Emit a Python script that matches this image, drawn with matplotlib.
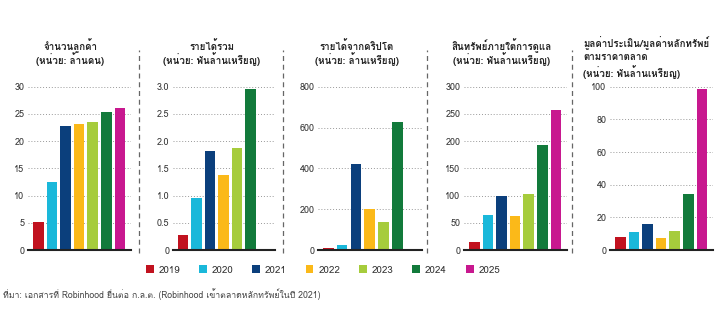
import numpy as np
import matplotlib
matplotlib.use("Agg")
import matplotlib.pyplot as plt
from matplotlib import font_manager
from matplotlib.ft2font import FT2Font
from matplotlib.patches import Patch
from matplotlib.lines import Line2D

# Datos por año
anios = ['2019', '2020', '2021', '2022', '2023', '2024', '2025']
colores = ['#c1121f', '#1ab8da', '#0b3f7c', '#fbb919', '#a6cc3c', '#127a3b', '#c8188f']

clientes = [5.1, 12.5, 22.8, 23.1, 23.5, 25.3, 26.0]
ingresos = [0.28, 0.96, 1.82, 1.37, 1.87, 2.96]
ingresos_cripto = [10, 24, 419, 202, 135, 626]
activos = [14.7, 63.7, 98.6, 62.4, 103.5, 193.5, 256.5]
valoracion = [7.8, 11.2, 15.9, 7.1, 11.6, 34.5, 98.4]

titulos = [
    ['จำนวนลูกค้า', '(หน่วย: ล้านคน)'],
    ['รายได้รวม', '(หน่วย: พันล้านเหรียญ)'],
    ['รายได้จากคริปโต', '(หน่วย: ล้านเหรียญ)'],
    ['สินทรัพย์ภายใต้การดูแล', '(หน่วย: พันล้านเหรียญ)'],
    ['มูลค่าประเมิน/มูลค่าหลักทรัพย์', 'ตามราคาตลาด', '(หน่วย: พันล้านเหรียญ)'],
]
ticks = [
    [0, 5, 10, 15, 20, 25, 30],
    [0, 0.5, 1.0, 1.5, 2.0, 2.5, 3.0],
    [0, 200, 400, 600, 800],
    [0, 50, 100, 150, 200, 250, 300],
    [0, 20, 40, 60, 80, 100],
]
etiquetas = [
    ['0', '5', '10', '15', '20', '25', '30'],
    ['0', '0.5', '1.0', '1.5', '2.0', '2.5', '3.0'],
    ['0', '200', '400', '600', '800'],
    ['0', '50', '100', '150', '200', '250', '300'],
    ['0', '20', '40', '60', '80', '100'],
]
series = [clientes, ingresos, ingresos_cripto, activos, valoracion]
fuente_nota = 'ที่มา: เอกสารที่ Robinhood ยื่นต่อ ก.ล.ต. (Robinhood เข้าตลาดหลักทรัพย์ในปี 2021)'


# Buscar una fuente instalada que tenga caracteres thai
def fuente_thai():
    for f in font_manager.fontManager.ttflist:
        try:
            if 0x0E01 in FT2Font(f.fname).get_charmap():
                return f.name
        except Exception:
            pass
    return 'DejaVu Sans'


plt.rcParams['font.family'] = [fuente_thai(), 'DejaVu Sans']

W, H = 720, 330
fig = plt.figure(figsize=(W / 100, H / 100), dpi=100)

# posiciones de los paneles en pixeles (izq, der)
paneles_x = [(28, 131), (173, 275), (318, 422), (464, 567), (610, 713)]
titulo_x = [70, 212, 357, 502, 583]
y_cero, y_tope = 250, 86.7

for i, (x0, x1) in enumerate(paneles_x):
    ax = fig.add_axes([x0 / W, 1 - y_cero / H, (x1 - x0) / W, (y_cero - y_tope) / H])
    vals = series[i]
    pos = np.arange(len(vals))
    ax.bar(pos, vals, width=0.78, color=colores[:len(vals)], zorder=3)
    ax.set_xlim(-0.75, 6.8)
    ax.set_ylim(0, ticks[i][-1])
    ax.set_yticks(ticks[i])
    ax.set_yticklabels(etiquetas[i])
    ax.set_xticks([])
    ax.tick_params(axis='y', length=0, labelsize=6.5, colors='#333333', pad=2.5)
    for s in ax.spines.values():
        s.set_visible(False)
    ax.yaxis.grid(True, linestyle=(0, (1, 2)), color='#999999', linewidth=0.7, zorder=0)
    ax.axhline(0, color='#222222', linewidth=1.5, zorder=4, clip_on=False)

    # titulos linea por linea
    if i < 4:
        ys = [46, 59]
        for t, y in zip(titulos[i], ys):
            fig.text(titulo_x[i] / W, 1 - y / H, t, ha='center', va='center',
                     fontsize=7, color='#222222', fontweight='semibold')
    else:
        ys = [43, 57, 72]
        for t, y in zip(titulos[i], ys):
            fig.text(titulo_x[i] / W, 1 - y / H, t, ha='left', va='center',
                     fontsize=7, color='#222222', fontweight='semibold')

# separadores punteados entre paneles
for xs in [138.5, 283, 427, 572]:
    fig.add_artist(Line2D([xs / W, xs / W], [1 - 253 / H, 1 - 50 / H], color='#666666',
                          linewidth=0.9, linestyle=(0, (4, 3))))

# leyenda
handles = [Patch(facecolor=c, edgecolor='none') for c in colores]
fig.legend(handles, anios, loc='center', bbox_to_anchor=(323 / W, 1 - 270 / H), ncol=7,
           frameon=False, fontsize=7, handlelength=0.8, handleheight=0.8,
           handletextpad=0.5, columnspacing=1.95, labelcolor='#333333')

fig.text(3 / W, 1 - 294 / H, fuente_nota, ha='left', va='center', fontsize=6.3, color='#444444')

plt.savefig('out.png', dpi=100)
